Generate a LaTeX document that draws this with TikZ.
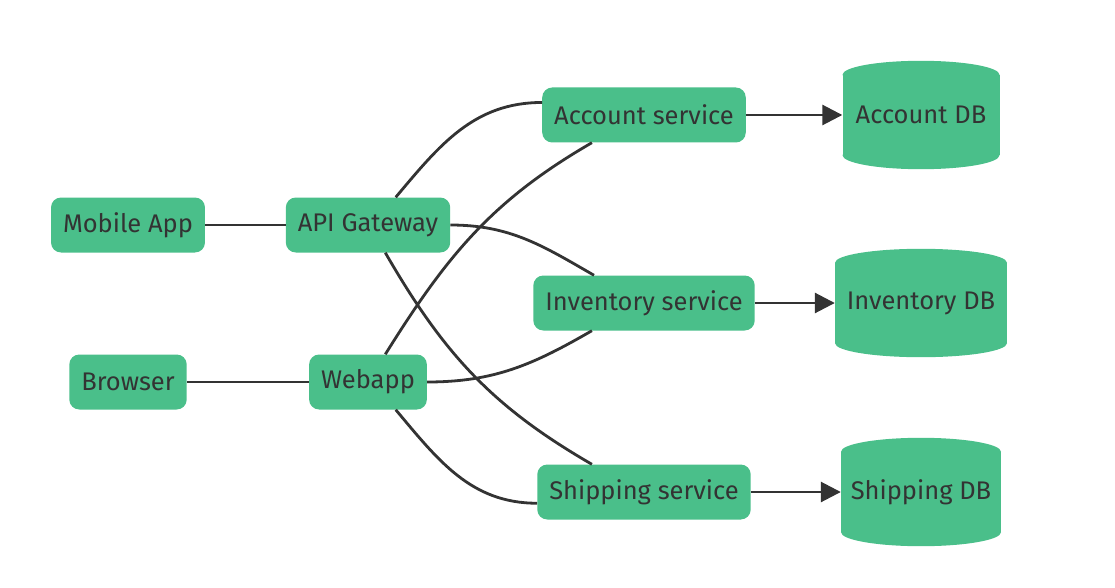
\documentclass[tikz,border=0pt]{standalone}
\usepackage{fontspec}
\setmainfont{Fira Sans}
\usetikzlibrary{positioning, arrows.meta}
\definecolor{nodegreen}{RGB}{74,191,138}
\definecolor{edgegray}{RGB}{51,51,51}
\tikzset{
	every node/.style={font=\fontsize{25.5}{30}\selectfont, text=edgegray}, % text size and colour for all labels
	box/.style={fill=nodegreen, rounded corners=10pt, minimum height=55pt, inner xsep=12pt}, % the rounded service boxes
	db/.style={fill=nodegreen, minimum height=80pt, minimum width=#1, inner xsep=8pt}, % body of a database, caps added below
	link/.style={draw=edgegray, line width=2.8pt}, % plain connectors
	>={Triangle[length=20pt, width=20pt]}, % filled arrow heads
	node distance=240pt, % distance between the client columns
}
\begin{document}
\begin{tikzpicture}
	\useasboundingbox (0,0) rectangle (1115pt,-588pt);
			\node[box] (mobile) at (128pt,-225pt) {Mobile App};
			\node[box, right of=mobile] (gateway) {API Gateway};
			\node[box, below of=mobile, node distance=157pt] (browser) {Browser};
			\node[box, right of=browser] (webapp) {Webapp};
			\node[box] (inventory) at (644pt,-303pt) {Inventory service};
			\node[box, above of=inventory, node distance=188pt] (account) {Account service};
			\node[box, below of=inventory, node distance=189pt] (shipping) {Shipping service};
			\node[db=157pt, right of=account, node distance=277pt] (accountdb) {Account DB};
			\node[db=172pt, right of=inventory, node distance=277pt] (inventorydb) {Inventory DB};
			\node[db=160pt, right of=shipping, node distance=277pt] (shippingdb) {Shipping DB};
	% round caps of the databases
	\foreach \db/\rx in {accountdb/78.5pt, inventorydb/86pt, shippingdb/80pt}
		\fill[nodegreen] (\db.north) ellipse[x radius=\rx, y radius=14pt]
						 (\db.south) ellipse[x radius=\rx, y radius=14pt];
	\draw[link] (mobile) -- (gateway);
	\draw[link] (browser) -- (webapp);
	\draw[link] (gateway.45) to[out=50, in=180] (account.173)
				(gateway.east) to[out=0, in=150] (inventory.151)
				(gateway.-58) to[out=-60, in=150] (shipping.152)
				(webapp.58) to[out=58, in=210] (account.208)
				(webapp.east) to[out=0, in=210] (inventory.208)
				(webapp.-45) to[out=-50, in=180] (shipping.186);
	\draw[link, ->] (account) -- (accountdb);
	\draw[link, ->] (inventory) -- (inventorydb);
	\draw[link, ->] (shipping) -- (shippingdb);
\end{tikzpicture}
\end{document}
